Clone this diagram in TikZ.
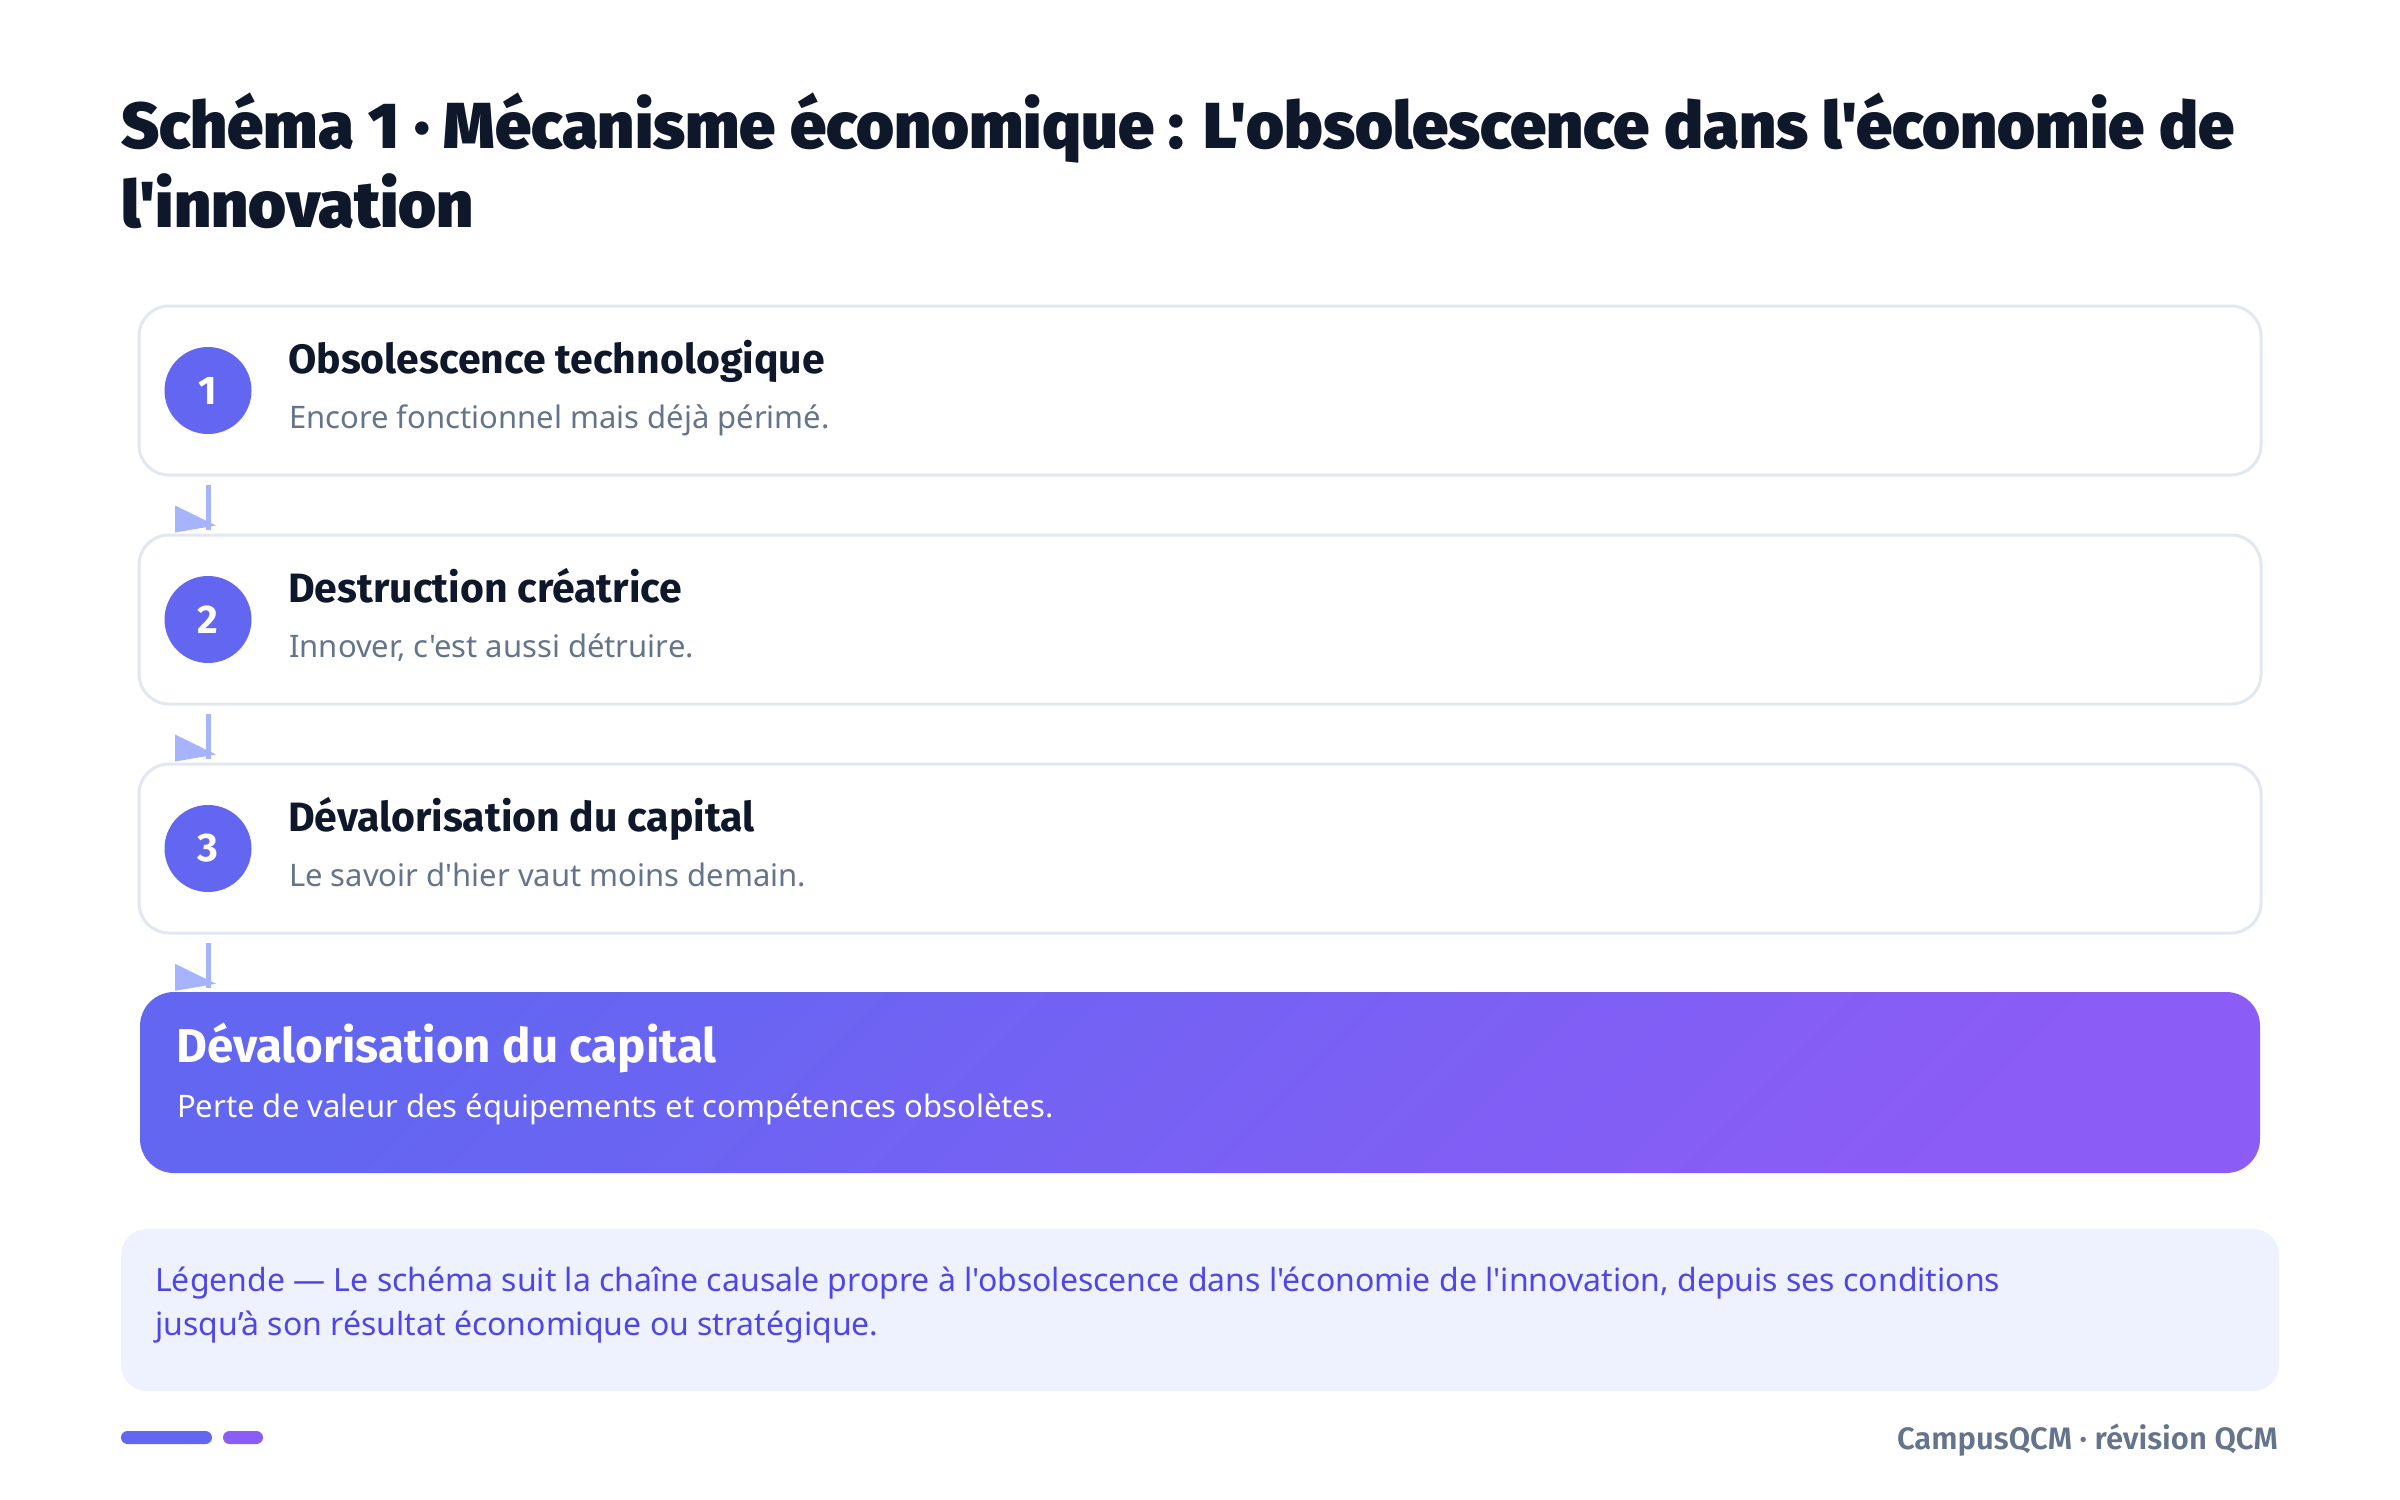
\documentclass[tikz,border=0pt]{standalone}
\usepackage{fontspec}
\newfontfamily\bodyfont{Noto Sans}
\newfontfamily\boldfont{Fira Sans Bold}
\newfontfamily\semifont{Fira Sans SemiBold}
\newfontfamily\heavyfont{Fira Sans Black}
\usetikzlibrary{calc}
\definecolor{ink}{HTML}{0F172A}
\definecolor{muted}{HTML}{64748B}
\definecolor{cardline}{HTML}{E2E8F0}
\definecolor{indigo}{HTML}{6366F1}
\definecolor{violet}{HTML}{8B5CF6}
\definecolor{flowc}{HTML}{A5B4FC}
\definecolor{legbg}{HTML}{EEF2FF}
\definecolor{legtxt}{HTML}{4F46E5}
\tikzset{
  card/.style={draw=cardline, line width=3pt, fill=white, rounded corners=30pt,
    minimum width=2122pt, minimum height=169pt, inner sep=0pt},
  numdot/.style={circle, fill=indigo, minimum size=87pt, inner sep=0pt,
    text=white, font=\boldfont\fontsize{40}{40}\selectfont},
  cardtitle/.style={anchor=base west, inner sep=0pt, text=ink,
    font=\boldfont\fontsize{41}{49}\selectfont},
  cardsub/.style={anchor=base west, inner sep=0pt, text=muted,
    font=\bodyfont\fontsize{31}{37}\selectfont},
  flow/.style={draw=flowc, line width=5pt},
  flowtip/.style={fill=flowc},
  titletext/.style={anchor=base west, inner sep=0pt, text=ink,
    font=\heavyfont\fontsize{65}{79}\selectfont},
  legtext/.style={anchor=base west, inner sep=0pt, text=legtxt,
    font=\bodyfont\fontsize{32}{38}\selectfont},
}
\begin{document}
\begin{tikzpicture}[x=1pt,y=-1pt]
\useasboundingbox[fill=white] (0,0) rectangle (2400,1499);
% title
\node[titletext] (t1) at (121,148) {Schéma 1 · Mécanisme économique : L'obsolescence dans l'économie de};
\node[titletext] (t2) at (121,227) {l'innovation};
% cards
\node[card] (b1) at (1200,390.5) {};
\node[card] (b2) at (1200,619.5) {};
\node[card] (b3) at (1200,848.5) {};
\node[numdot] (n1) at (208,390.5) {1};
\node[numdot] (n2) at (208,619.5) {2};
\node[numdot] (n3) at (208,848.5) {3};
\node[cardtitle] (h1) at (288,373) {Obsolescence technologique};
\node[cardsub] (s1) at (289,428) {Encore fonctionnel mais déjà périmé.};
\node[cardtitle] (h2) at (288,602) {Destruction créatrice};
\node[cardsub] (s2) at (289,657) {Innover, c'est aussi détruire.};
\node[cardtitle] (h3) at (288,831) {Dévalorisation du capital};
\node[cardsub] (s3) at (289,886) {Le savoir d'hier vaut moins demain.};
% result
\node[rounded corners=34pt, minimum width=2120pt, minimum height=181pt, inner sep=0pt,
  top color=indigo, bottom color=violet, shading angle=45] (r) at (1200,1082.5) {};
\node[anchor=base west, inner sep=0pt, text=white, font=\boldfont\fontsize{47.5}{55}\selectfont] (rh) at (176,1062) {Dévalorisation du capital};
\node[anchor=base west, inner sep=0pt, text=white, font=\bodyfont\fontsize{31}{37}\selectfont] (rs) at (177,1117) {Perte de valeur des équipements et compétences obsolètes.};
% connectors
\foreach \a/\b in {b1/b2,b2/b3,b3/r}{
  \draw[flow] ($(n1.center |- \a.south)+(0,8)$) -- ($(n1.center |- \b.north)+(0,-4)$);
  \fill[flowtip] ($(n1.center |- \b.north)+(-33,-28)$) -- ++(0,27) -- ++(41,-7) -- cycle;
}
% legend
\node[fill=legbg, rounded corners=26pt, minimum width=2158pt, minimum height=162pt, inner sep=0pt] (leg) at (1200,1310) {};
\node[legtext] (l1) at (155,1291) {Légende — Le schéma suit la chaîne causale propre à l'obsolescence dans l'économie de l'innovation, depuis ses conditions};
\node[legtext] (l2) at (155,1335) {jusqu’à son résultat économique ou stratégique.};
% footer
\fill[indigo, rounded corners=6.5pt] (121,1431) rectangle (212,1444);
\fill[violet, rounded corners=6.5pt] (223,1431) rectangle (263,1444);
\node[anchor=base east, inner sep=0pt, text=muted, font=\semifont\fontsize{31}{37}\selectfont] (ft) at (2278,1449) {CampusQCM · révision QCM};
\end{tikzpicture}
\end{document}
